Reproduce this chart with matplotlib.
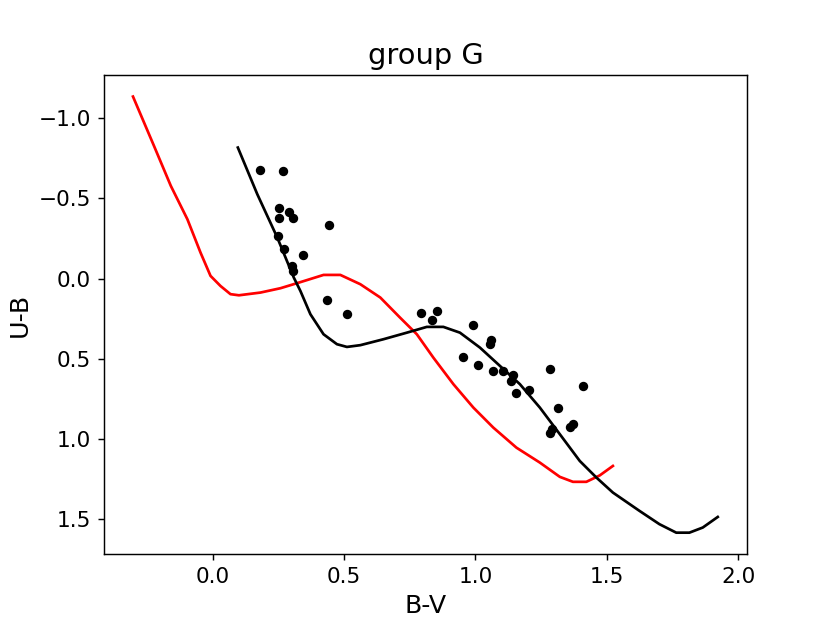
import numpy as np
import matplotlib
matplotlib.use("Agg")
import matplotlib.pyplot as plt

# red sequence (reference line)
red_bv = [-0.303, -0.223, -0.159, -0.096, -0.046, -0.008, 0.030, 0.068, 0.100,
          0.182, 0.258, 0.334, 0.422, 0.486, 0.562, 0.638, 0.713, 0.777, 0.840,
          0.916, 0.992, 1.068, 1.156, 1.245, 1.321, 1.371, 1.422, 1.473, 1.523]
red_ub = [-1.135, -0.827, -0.578, -0.370, -0.162, -0.017, 0.046, 0.097, 0.104,
          0.087, 0.060, 0.022, -0.023, -0.023, 0.035, 0.118, 0.243, 0.347, 0.493,
          0.658, 0.804, 0.929, 1.054, 1.147, 1.236, 1.267, 1.267, 1.227, 1.168]

# black sequence (shifted line)
blk_bv = [0.096, 0.170, 0.246, 0.309, 0.334, 0.372, 0.422, 0.473, 0.511, 0.562,
          0.650, 0.739, 0.815, 0.878, 0.941, 1.017, 1.093, 1.169, 1.245, 1.321,
          1.397, 1.460, 1.523, 1.624, 1.700, 1.764, 1.814, 1.865, 1.922]
blk_ub = [-0.817, -0.526, -0.256, -0.006, 0.077, 0.222, 0.347, 0.409, 0.426, 0.415,
          0.378, 0.337, 0.301, 0.301, 0.337, 0.430, 0.544, 0.658, 0.804, 0.970,
          1.137, 1.240, 1.334, 1.448, 1.531, 1.584, 1.584, 1.552, 1.486]

# group G stars
star_bv = [0.182, 0.268, 0.252, 0.254, 0.290, 0.305, 0.443, 0.249, 0.273, 0.345,
           0.302, 0.305, 0.434, 0.512, 0.792, 0.853, 0.834, 0.989, 1.061, 1.055,
           0.951, 1.009, 1.068, 1.106, 1.144, 1.134, 1.154, 1.202, 1.285, 1.409,
           1.316, 1.371, 1.359, 1.283, 1.293]
star_ub = [-0.676, -0.671, -0.443, -0.380, -0.416, -0.380, -0.333, -0.266, -0.187, -0.148,
           -0.079, -0.048, 0.133, 0.218, 0.214, 0.201, 0.260, 0.289, 0.384, 0.409,
           0.488, 0.538, 0.575, 0.579, 0.600, 0.638, 0.714, 0.692, 0.561, 0.667,
           0.808, 0.908, 0.925, 0.960, 0.939]

fig = plt.figure(figsize=(830/130, 623/130), dpi=130)
ax = fig.add_subplot(111)

ax.plot(red_bv, red_ub, color="red")
ax.plot(blk_bv, blk_ub, color="black")
ax.plot(star_bv, star_ub, "ko", markersize=4.2)

ax.invert_yaxis()
ax.tick_params(labelsize=12)
ax.set_xlabel("B-V", fontsize=14)
ax.set_ylabel("U-B", fontsize=14)
ax.set_title("group G", fontsize=16)

plt.savefig("out.png", dpi=130)
